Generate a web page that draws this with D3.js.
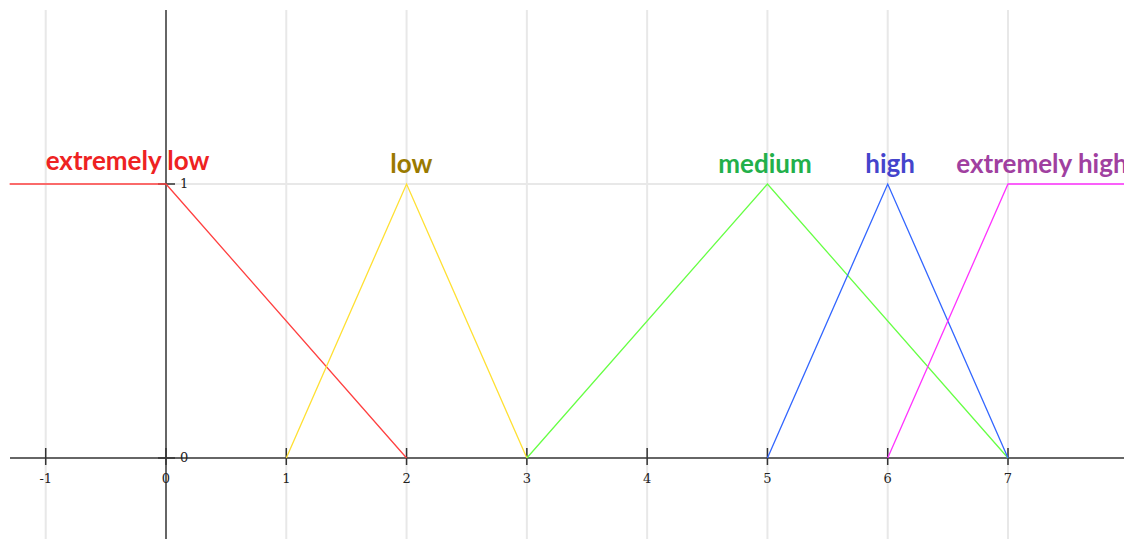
<!DOCTYPE html>
<html>
<head>
<meta charset="utf-8">
<script src="https://cdn.jsdelivr.net/npm/d3@7"></script>
<style>
  body { margin: 0; background: #fff; overflow: hidden; }
  .tick-label { font-family: "DejaVu Serif", "Liberation Serif", serif; font-size: 13px; fill: #222; }
  .set-label { font-family: Lato, "Open Sans", sans-serif; font-weight: bold; font-size: 26px; }
</style>
</head>
<body>
<div id="chart"></div>
<script>
// fuzzy sets: breakpoints [x, membership]
var setNames = ['extremely low', 'low', 'medium', 'high', 'extremely high'];
var setColors = ['#ff4040', '#ffe033', '#66ff44', '#3366ff', '#ff33ff'];
var labelColors = ['#ee2222', '#9a7a00', '#22b04a', '#4444cc', '#a040a0'];
var setPoints = [
    [[-1.3, 1], [0, 1], [2, 0]],
    [[1, 0], [2, 1], [3, 0]],
    [[3, 0], [5, 1], [7, 0]],
    [[5, 0], [6, 1], [7, 0]],
    [[6, 0], [7, 1], [8.1, 1]]
];
// label anchor (x, anchor mode)
var labelX = [-0.32, 2.04, 4.98, 6.02, 6.57];
var labelAnchor = ['middle', 'middle', 'middle', 'middle', 'start'];
var xTicks = [-1, 0, 1, 2, 3, 4, 5, 6, 7];
var yTicks = [0, 1];

var cfg = { w: 1124, h: 539 };

var x = d3.scaleLinear().domain([0, 7]).range([166, 1008]);
var y = d3.scaleLinear().domain([0, 1]).range([458, 184]);

var svg = d3.select('#chart').append('svg')
    .attr('width', cfg.w)
    .attr('height', cfg.h)
    .style('display', 'block');

// vertical grid
svg.append('g').selectAll('line')
    .data(xTicks.filter(function(d) { return d !== 0; }))
    .enter().append('line')
    .attr('x1', function(d) { return x(d); })
    .attr('x2', function(d) { return x(d); })
    .attr('y1', 10).attr('y2', cfg.h)
    .attr('stroke', '#e8e8e8').attr('stroke-width', 2);

// horizontal grid at 1
svg.append('line')
    .attr('x1', 10).attr('x2', cfg.w)
    .attr('y1', y(1)).attr('y2', y(1))
    .attr('stroke', '#e8e8e8').attr('stroke-width', 2);

// axes
svg.append('line')
    .attr('x1', 10).attr('x2', cfg.w)
    .attr('y1', y(0)).attr('y2', y(0))
    .attr('stroke', '#666').attr('stroke-width', 2);
svg.append('line')
    .attr('x1', x(0)).attr('x2', x(0))
    .attr('y1', 10).attr('y2', cfg.h)
    .attr('stroke', '#666').attr('stroke-width', 2);

// x ticks
var xt = svg.append('g').selectAll('g')
    .data(xTicks).enter().append('g')
    .attr('transform', function(d) { return 'translate(' + x(d) + ',' + y(0) + ')'; });
xt.append('line').attr('y1', -10).attr('y2', 7).attr('stroke', '#333').attr('stroke-width', 1.5);
xt.append('text').attr('class', 'tick-label')
    .attr('text-anchor', 'middle').attr('y', 25)
    .text(function(d) { return d; });

// y ticks
var yt = svg.append('g').selectAll('g')
    .data(yTicks).enter().append('g')
    .attr('transform', function(d) { return 'translate(' + x(0) + ',' + y(d) + ')'; });
yt.append('line').attr('x1', -8).attr('x2', 9).attr('stroke', '#333').attr('stroke-width', 1.5);
yt.append('text').attr('class', 'tick-label')
    .attr('x', 14).attr('dy', 4)
    .text(function(d) { return d; });

// membership lines
var line = d3.line()
    .x(function(d) { return x(d[0]); })
    .y(function(d) { return y(d[1]); });

svg.append('g').selectAll('path')
    .data(setPoints).enter().append('path')
    .attr('d', line)
    .attr('fill', 'none')
    .attr('stroke', function(d, i) { return setColors[i]; })
    .attr('stroke-width', 1.3);

// labels
svg.append('g').selectAll('text')
    .data(setNames).enter().append('text')
    .attr('class', 'set-label')
    .attr('x', function(d, i) { return x(labelX[i]); })
    .attr('y', function(d, i) { return i === 0 ? 170 : 173; })
    .attr('text-anchor', function(d, i) { return labelAnchor[i]; })
    .attr('fill', function(d, i) { return labelColors[i]; })
    .text(function(d) { return d; });
</script>
</body>
</html>
